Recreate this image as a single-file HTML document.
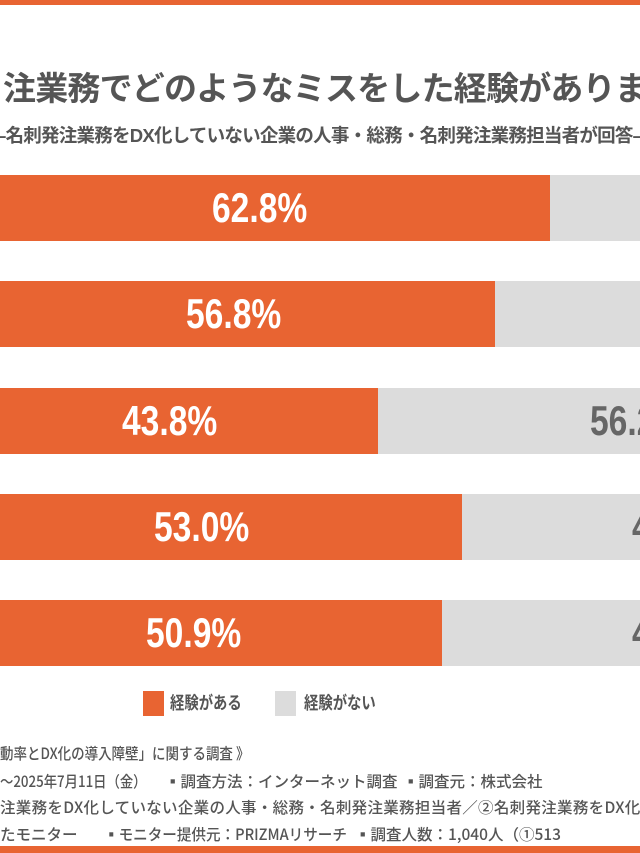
<!DOCTYPE html>
<html><head><meta charset="utf-8"><style>
body{margin:0;width:640px;height:853px;position:relative;overflow:hidden;background:#fff;font-family:"Liberation Sans","Noto Sans CJK JP",sans-serif;color:#555}
.a{position:absolute;white-space:nowrap}
.bar{position:absolute;left:0;width:640px;height:66px;background:#dcdcdc;overflow:hidden}
.o{position:absolute;left:0;top:0;height:66px;background:#e86432}
.p{position:absolute;top:9px;font-family:"Liberation Sans",sans-serif;font-weight:bold;font-size:42px;line-height:48px;transform:scaleX(0.8);transform-origin:left top}
.w{color:#fff}.g{color:#666}
.f{font-family:"Noto Sans CJK JP",sans-serif;font-size:15.5px;font-weight:500;color:#555;line-height:18px;transform-origin:left top}
</style></head><body>
<div class="a" style="left:0;top:0;width:640px;height:5px;background:#e86432"></div>
<div class="a" style="left:3px;top:69px;font-size:33px;font-weight:bold;line-height:40px;color:#555;letter-spacing:-0.8px;overflow:hidden;width:637px">注業務でどのようなミスをした経験がありま</div>
<div class="a" style="left:-4px;top:125px;font-size:18.5px;font-weight:bold;line-height:22px;color:#555;letter-spacing:-0.75px;width:644px;overflow:hidden">–名刺発注業務をDX化していない企業の人事・総務・名刺発注業務担当者が回答–</div>

<div class="bar" style="top:175px"><div class="o" style="width:550px"></div><div class="p w" style="left:212px">62.8%</div></div>
<div class="bar" style="top:281px"><div class="o" style="width:495px"></div><div class="p w" style="left:186px">56.8%</div></div>
<div class="bar" style="top:388px"><div class="o" style="width:378px"></div><div class="p w" style="left:122px">43.8%</div><div class="p g" style="left:590px">56.2%</div></div>
<div class="bar" style="top:494px"><div class="o" style="width:462px"></div><div class="p w" style="left:154px">53.0%</div><div class="p g" style="left:632px">47.0%</div></div>
<div class="bar" style="top:600px"><div class="o" style="width:442px"></div><div class="p w" style="left:146px">50.9%</div><div class="p g" style="left:632px">49.1%</div></div>

<div class="a" style="left:143px;top:691px;width:21px;height:25px;background:#e86432"></div>
<div class="a" style="left:170px;top:691px;font-size:17.5px;font-weight:bold;line-height:24px;color:#555;transform:scaleX(0.82);transform-origin:left top">経験がある</div>
<div class="a" style="left:275px;top:691px;width:21px;height:25px;background:#dcdcdc"></div>
<div class="a" style="left:304px;top:691px;font-size:17.5px;font-weight:bold;line-height:24px;color:#555;transform:scaleX(0.82);transform-origin:left top">経験がない</div>

<div class="a f" style="left:0;top:744px;transform:scaleX(0.87)">動率とDX化の導入障壁」に関する調査 》</div>
<div class="a f" style="left:0;top:772px;transform:scaleX(0.86)">〜2025年7月11日（金）</div>
<div class="a f" style="left:165px;top:772px">▪調査方法：インターネット調査</div>
<div class="a f" style="left:403px;top:772px">▪調査元：株式会社</div>
<div class="a f" style="left:0;top:798px;letter-spacing:0.3px">注業務をDX化していない企業の人事・総務・名刺発注業務担当者／②名刺発注業務をDX化</div>
<div class="a f" style="left:0;top:825px">たモニター</div>
<div class="a f" style="left:104px;top:825px;transform:scaleX(0.94)">▪モニター提供元：PRIZMAリサーチ</div>
<div class="a f" style="left:355px;top:825px">▪調査人数：1,040人（①513</div>
<div class="a" style="left:0;top:846px;width:640px;height:7px;background:#e86432"></div>
</body></html>
